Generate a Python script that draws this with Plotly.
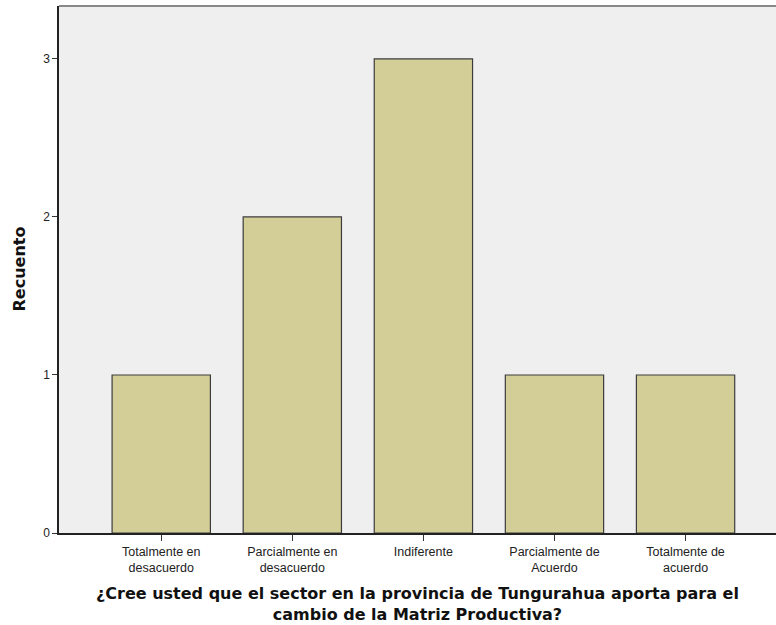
import plotly.graph_objects as go

categories = ["Totalmente en<br>desacuerdo", "Parcialmente en<br>desacuerdo", "Indiferente",
              "Parcialmente de<br>Acuerdo", "Totalmente de<br>acuerdo"]
counts = [1, 2, 3, 1, 1]
y_ticks = [0, 1, 2, 3]
x_title_lines = ["¿Cree usted que el sector en la provincia de Tungurahua aporta para el",
                 "cambio de la Matriz Productiva?"]
y_title = "Recuento"

fig = go.Figure()
fig.add_trace(go.Bar(
    x=list(range(len(categories))), y=counts, width=0.75,
    marker=dict(color="#D3CE97", line=dict(color="#3C3C3C", width=1.2)),
))

fig.update_layout(
    width=776, height=625,
    margin=dict(l=59, r=0, t=6, b=92),
    paper_bgcolor="white", plot_bgcolor="#EFEFEF",
    showlegend=False,
    font=dict(family="Liberation Sans, Arial", size=12, color="#222"),
    xaxis=dict(
        range=[-0.78, 4.69], tickmode="array",
        tickvals=list(range(len(categories))), ticktext=categories,
        ticks="outside", ticklen=6, tickcolor="#333", tickwidth=1,
        showline=True, linecolor="#222", linewidth=1.5,
        showgrid=False, zeroline=False,
        tickfont=dict(size=12.5, color="#222"),
    ),
    yaxis=dict(
        range=[0, 3.335], tickmode="array", tickvals=y_ticks,
        ticks="outside", ticklen=5, tickcolor="#333", tickwidth=1,
        showline=True, linecolor="#222", linewidth=1.5,
        showgrid=False, zeroline=False,
        tickfont=dict(size=12, color="#222"),
    ),
)

fig.add_shape(type="line", xref="paper", yref="paper", x0=0, x1=1, y0=1, y1=1,
              line=dict(color="#888", width=2))

fig.add_annotation(
    text="<b>" + y_title + "</b>", textangle=-90,
    xref="paper", yref="paper", x=0, y=0.5, xanchor="center", yanchor="middle",
    xshift=-40, showarrow=False,
    font=dict(family="DejaVu Sans", size=16, color="#111"),
)
fig.add_annotation(
    text="<b>" + "<br>".join(x_title_lines) + "</b>",
    xref="paper", yref="paper", x=0.5, y=0, xanchor="center", yanchor="bottom",
    yshift=-92, showarrow=False, borderpad=0,
    font=dict(family="DejaVu Sans", size=16, color="#111"),
)

fig.write_html("out.html", config={"displayModeBar": False},
               post_script="document.body.style.margin='0';document.body.style.overflow='hidden';")
